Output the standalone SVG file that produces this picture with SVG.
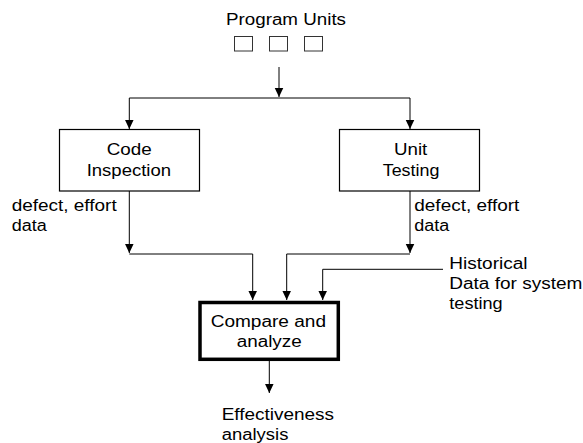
<svg xmlns="http://www.w3.org/2000/svg" width="583" height="443" viewBox="0 0 583 443">
<style>
text{font-family:"Liberation Sans",Arial,sans-serif;font-size:16px;fill:#000}
.ln{fill:none;stroke:#000;stroke-width:1}
.box{fill:#fff;stroke:#000;stroke-width:1.2}
.thick{fill:#fff;stroke:#000;stroke-width:3.5}
.sm{fill:#fff;stroke:#333;stroke-width:1}
</style>
<defs>
<marker id="ah" markerUnits="userSpaceOnUse" markerWidth="10" markerHeight="11" refX="9.5" refY="4.5" orient="auto">
<path d="M0,0 L9.5,4.5 L0,9 Z" fill="#000"/>
</marker>
</defs>
<g id="connectors">
<path class="ln" d="M279,67 V97" marker-end="url(#ah)"/>
<path class="ln" d="M129.3,98 H410"/>
<path class="ln" d="M129.3,98 V129" marker-end="url(#ah)"/>
<path class="ln" d="M410,98 V129" marker-end="url(#ah)"/>
<path class="ln" d="M129.3,191 V253" marker-end="url(#ah)"/>
<path class="ln" d="M410,191 V253" marker-end="url(#ah)"/>
<path class="ln" d="M129.3,254 H252.7 V300" marker-end="url(#ah)"/>
<path class="ln" d="M410,254 H286.7 V300" marker-end="url(#ah)"/>
<path class="ln" d="M443,269.3 H322.7 V300" marker-end="url(#ah)"/>
<path class="ln" d="M269.3,361 V393" marker-end="url(#ah)"/>
</g>
<g id="program-units">
<text x="226" y="25" textLength="120" lengthAdjust="spacingAndGlyphs">Program Units</text>
<rect class="sm" x="234.5" y="36.5" width="18" height="14.5"/>
<rect class="sm" x="269.5" y="36.5" width="18" height="14.5"/>
<rect class="sm" x="304.5" y="36.5" width="18" height="14.5"/>
</g>
<g id="code-inspection">
<rect class="box" x="59.5" y="129.5" width="140" height="61.5"/>
<text x="106.7" y="155" textLength="45" lengthAdjust="spacingAndGlyphs">Code</text>
<text x="86.7" y="176" textLength="84.3" lengthAdjust="spacingAndGlyphs">Inspection</text>
</g>
<g id="unit-testing">
<rect class="box" x="339.5" y="129.5" width="140" height="61.5"/>
<text x="394" y="155" textLength="33.3" lengthAdjust="spacingAndGlyphs">Unit</text>
<text x="382.7" y="176" textLength="56.7" lengthAdjust="spacingAndGlyphs">Testing</text>
</g>
<g id="label-left">
<text x="11.7" y="210.7" textLength="105" lengthAdjust="spacingAndGlyphs">defect, effort</text>
<text x="11.7" y="230.7" textLength="35" lengthAdjust="spacingAndGlyphs">data</text>
</g>
<g id="label-right">
<text x="414.3" y="210.7" textLength="105" lengthAdjust="spacingAndGlyphs">defect, effort</text>
<text x="414.3" y="230.7" textLength="35" lengthAdjust="spacingAndGlyphs">data</text>
</g>
<g id="historical">
<text x="449.3" y="268.5" textLength="78.3" lengthAdjust="spacingAndGlyphs">Historical</text>
<text x="449.3" y="288.5" textLength="133" lengthAdjust="spacingAndGlyphs">Data for system</text>
<text x="449.3" y="308.5" textLength="53.3" lengthAdjust="spacingAndGlyphs">testing</text>
</g>
<g id="compare-analyze">
<rect class="thick" x="200" y="302.5" width="138.3" height="56.8"/>
<text x="210.7" y="327.3" textLength="115.3" lengthAdjust="spacingAndGlyphs">Compare and</text>
<text x="236.7" y="347" textLength="65" lengthAdjust="spacingAndGlyphs">analyze</text>
</g>
<g id="effectiveness">
<text x="221.7" y="420" textLength="112.3" lengthAdjust="spacingAndGlyphs">Effectiveness</text>
<text x="221.7" y="440" textLength="66.7" lengthAdjust="spacingAndGlyphs">analysis</text>
</g>
</svg>
